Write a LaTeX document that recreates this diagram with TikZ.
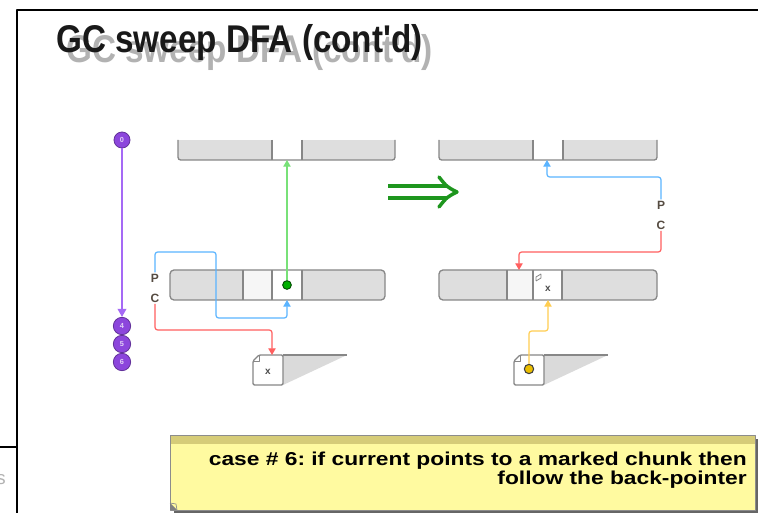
\documentclass[tikz,border=0pt]{standalone}
\usepackage{fontspec}
\setmainfont{Liberation Sans}
\newfontfamily\titlefont[FakeStretch=0.86]{Liberation Sans Bold}
\newfontfamily\notefont[FakeStretch=1.22]{Liberation Sans Bold}
\usetikzlibrary{arrows.meta}
\definecolor{barfill}{RGB}{222,222,222}
\definecolor{barline}{RGB}{135,135,135}
\definecolor{celllight}{RGB}{246,246,246}
\definecolor{purp}{RGB}{140,70,220}
\definecolor{purpline}{RGB}{165,105,245}
\definecolor{gline}{RGB}{120,225,120}
\definecolor{gdotc}{RGB}{0,175,0}
\definecolor{bline}{RGB}{90,180,255}
\definecolor{rline}{RGB}{255,95,95}
\definecolor{yline}{RGB}{255,205,80}
\definecolor{ydotc}{RGB}{235,190,0}
\definecolor{bigarrow}{RGB}{30,150,30}
\definecolor{notefill}{RGB}{255,250,160}
\definecolor{noteband}{RGB}{214,204,120}
\definecolor{labelc}{RGB}{85,75,65}
\definecolor{shadowgray}{RGB}{218,218,218}
\frenchspacing
\begin{document}
\begin{tikzpicture}[x=0.75pt,y=-0.75pt,line join=round,
  barout/.style={draw=barline,line width=1pt},
  pcirc/.style={circle,fill=purp,draw=purp!70!black,line width=0.6pt,inner sep=0pt,text=purp!25,font=\fontsize{5.5}{5.5}\selectfont\bfseries},
  tipline/.style={line width=0.9pt,rounded corners=2pt,-{Triangle[length=5pt,width=5.5pt]}},
  pclabel/.style={text=labelc,font=\fontsize{9}{9}\selectfont\bfseries,inner sep=1pt},
  xmark/.style={text=black!70,font=\fontsize{7.5}{7.5}\selectfont\bfseries,inner sep=0pt},
  notetext/.style={anchor=base east,inner sep=0pt,font=\notefont\fontsize{14}{14}\selectfont}]
\useasboundingbox (0,0) rectangle (758,513);
\fill[white] (0,0) rectangle (758,513);

% frame
\draw[line width=1.6pt] (17,513) -- (17,10) -- (758,10);
\draw[line width=1.6pt] (0,447) -- (17,447);
\node[text=black!30,font=\fontsize{14}{14}\selectfont] (sfrag) at (1,480) {s};

% title
\node[anchor=base west,inner sep=0pt,text=black!30,font=\titlefont\fontsize{29}{29}\selectfont] (titleshadow) at (66,63) {GC sweep DFA (cont'd)};
\node[anchor=base west,inner sep=0pt,text=black!90,font=\titlefont\fontsize{29}{29}\selectfont] (title) at (56,53) {GC sweep DFA (cont'd)};

% purple states
\node[pcirc,minimum size=12pt] (s0) at (122,140) {0};
\node[pcirc,minimum size=13pt] (s4) at (122,326) {4};
\node[pcirc,minimum size=13pt] (s5) at (122,344) {5};
\node[pcirc,minimum size=13pt] (s6) at (122,362) {6};
\draw[purpline,line width=1pt,-{Triangle[length=6pt,width=6.5pt]}] (s0) -- (s4);

% ---------- left: top bar
\fill[barfill] (178,140) rectangle (395,160);
\fill[white] (272,140) rectangle (302,160);
\draw[barout,rounded corners=2pt] (178,140) -- (178,160) -- (395,160) -- (395,140);
\draw[barout] (272,140) -- (272,160) (302,140) -- (302,160);
\coordinate (LTslot) at (287,160);

% left: lower bar
\fill[barfill,rounded corners=3pt] (170,270) rectangle (385,300);
\fill[celllight] (243,270) rectangle (272,300);
\fill[white] (272,270) rectangle (302,300);
\draw[barout,rounded corners=3pt] (170,270) rectangle (385,300);
\draw[barout] (243,270) -- (243,300) (272,270) -- (272,300) (302,270) -- (302,300);
\coordinate (LBslot) at (287,300);
\node[circle,fill=gdotc,draw=black!70!green,line width=0.7pt,minimum size=6.5pt,inner sep=0pt] (gdot) at (287,285) {};

% left: chunk
\fill[shadowgray] (283,355) -- (347,355) -- (283,385) -- cycle;
\draw[barline,line width=0.8pt] (283,355) -- (347,355);
\draw[barout,fill=white,rounded corners=1pt] (259,355) -- (283,355) -- (283,385) -- (253,385) -- (253,361) -- cycle;
\draw[barline,line width=0.7pt] (253,361) -- (259,361) -- (259,355);
\node[xmark] (lx) at (268,372) {x};
\coordinate (LCtop) at (272,355);

% left labels and pointers
\node[pclabel] (Pl) at (155,278) {P};
\node[pclabel] (Cl) at (155,298) {C};
\draw[gline,tipline] (gdot) -- (LTslot);
\draw[bline,tipline] (Pl.north) -- (155,252) -- (216,252) -- (216,318) -- (287,318) -- (LBslot);
\draw[rline,tipline] (Cl.south) -- (155,330) -- (272,330) -- (LCtop);

% big implication arrow
\draw[bigarrow,line width=2.4pt] (388,186) -- (446,186) (388,198) -- (446,198);
\draw[bigarrow,line width=2.6pt,line cap=round] (439,177) .. controls (447,187) .. (457,192) .. controls (447,197) .. (439,207);

% ---------- right: top bar
\fill[barfill] (439,140) rectangle (657,160);
\fill[white] (533,140) rectangle (563,160);
\draw[barout,rounded corners=2pt] (439,140) -- (439,160) -- (657,160) -- (657,140);
\draw[barout] (533,140) -- (533,160) (563,140) -- (563,160);
\coordinate (RTslot) at (547,160);

% right: lower bar
\fill[barfill,rounded corners=3pt] (439,270) rectangle (657,300);
\fill[celllight] (507,270) rectangle (533,300);
\fill[white] (533,270) rectangle (562,300);
\draw[barout,rounded corners=3pt] (439,270) rectangle (657,300);
\draw[barout] (507,270) -- (507,300) (533,270) -- (533,300) (562,270) -- (562,300);
\draw[barline,line width=0.6pt] (536,281) -- (536,277) -- (541,274) (536,281) -- (541,278) -- (541,274);
\node[xmark] (rx) at (548,289) {x};
\coordinate (RBcell) at (519,270);
\coordinate (RBx) at (548,300);

% right: chunk
\fill[shadowgray] (544,355) -- (608,355) -- (544,385) -- cycle;
\draw[barline,line width=0.8pt] (544,355) -- (608,355);
\draw[barout,fill=white,rounded corners=1pt] (520,355) -- (544,355) -- (544,385) -- (514,385) -- (514,361) -- cycle;
\draw[barline,line width=0.7pt] (514,361) -- (520,361) -- (520,355);
\node[circle,fill=ydotc,draw=black!75,line width=0.8pt,minimum size=7pt,inner sep=0pt] (ydot) at (529,369) {};

% right labels and pointers
\node[pclabel] (Pr) at (661,205) {P};
\node[pclabel] (Cr) at (661,225) {C};
\draw[bline,tipline] (Pr.north) -- (661,177) -- (547,177) -- (RTslot);
\draw[rline,tipline] (Cr.south) -- (661,252) -- (519,252) -- (RBcell);
\draw[yline,tipline] (ydot) -- (529,331) -- (548,331) -- (RBx);

% note
\fill[black!60] (174,439) rectangle (758,513);
\fill[notefill] (170,435) rectangle (755,510);
\fill[noteband] (170,435) rectangle (755,444);
\draw[black!45,line width=0.6pt] (170,435) rectangle (755,510);
\fill[black!50] (170,503) -- (177,510) -- (170,510) -- cycle;
\draw[black!45,line width=0.5pt] (170,503) -- (176,504) -- (177,510);
\node[notetext] (note1) at (747,466) {case \# 6: if current points to a marked chunk then};
\node[notetext] (note2) at (747,485) {follow the back-pointer};
\end{tikzpicture}
\end{document}
